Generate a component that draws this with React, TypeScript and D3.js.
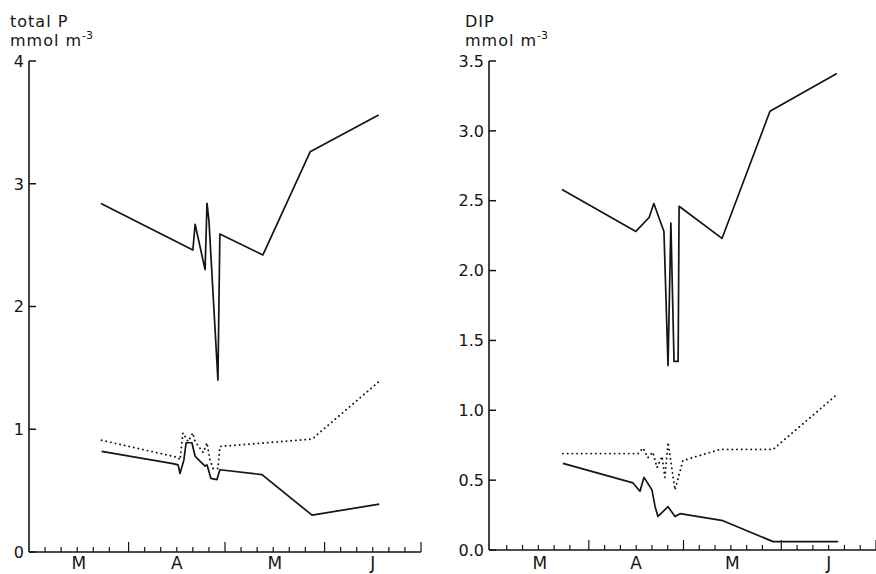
import React from "react";
import * as d3 from "d3";

// day counted from 1 March; months M A M J
const monthStarts = [0, 31, 61, 92, 122];
const monthLabels = ["M", "A", "M", "J"];

type Pt = [number, number];

// total P, mmol m-3
const totalPUpper: Pt[] = [
  [22.4, 2.84], [51.0, 2.46], [51.7, 2.67], [54.8, 2.3], [55.4, 2.84], [56.0, 2.7],
  [58.8, 1.4], [59.4, 2.59], [72.8, 2.42], [87.5, 3.26], [108.8, 3.56],
];
const totalPDotted: Pt[] = [
  [22.6, 0.91], [46.4, 0.77], [47.0, 0.75], [47.9, 0.97], [49.5, 0.9], [51.0, 0.97],
  [51.7, 0.9], [54.2, 0.81], [55.4, 0.89], [56.3, 0.75], [57.3, 0.68], [58.8, 0.68],
  [59.4, 0.86], [88.1, 0.92], [109.0, 1.39],
];
const totalPLower: Pt[] = [
  [22.6, 0.82], [44.8, 0.72], [46.4, 0.71], [47.0, 0.64], [48.2, 0.75], [48.9, 0.89],
  [50.7, 0.89], [51.7, 0.78], [53.2, 0.74], [54.8, 0.7], [55.4, 0.71], [56.6, 0.6],
  [58.5, 0.59], [59.4, 0.67], [72.5, 0.63], [88.1, 0.3], [109.0, 0.39],
];

// DIP, mmol m-3
const dipUpper: Pt[] = [
  [22.5, 2.58], [45.9, 2.28], [50.1, 2.38], [51.6, 2.48], [54.8, 2.28], [56.1, 1.32],
  [57.0, 2.34], [58.0, 1.35], [59.3, 1.35], [59.6, 2.46], [73.2, 2.23], [88.4, 3.14],
  [109.6, 3.41],
];
const dipDotted: Pt[] = [
  [22.8, 0.69], [46.6, 0.69], [48.2, 0.73], [49.7, 0.66], [51.3, 0.7], [52.6, 0.59],
  [54.2, 0.67], [55.1, 0.52], [56.1, 0.77], [58.3, 0.43], [60.8, 0.64], [72.6, 0.72],
  [89.4, 0.72], [110.0, 1.12],
];
const dipLower: Pt[] = [
  [22.8, 0.62], [45.0, 0.48], [47.2, 0.42], [48.5, 0.52], [51.0, 0.43], [52.0, 0.31],
  [52.9, 0.24], [56.1, 0.31], [58.3, 0.24], [59.9, 0.26], [73.5, 0.21], [89.4, 0.06],
  [110.0, 0.06],
];

const totalPTicks = [0, 1, 2, 3, 4];
const dipTicks = [0, 0.5, 1, 1.5, 2, 2.5, 3, 3.5];

const font = "'DejaVu Sans', sans-serif";
const ink = "#141414";

type PanelProps = {
  axisX: number;
  xRange: [number, number];
  xEnd: number;
  yRange: [number, number];
  yMax: number;
  ticks: number[];
  fmt: (v: number) => string;
  title: string;
  titleX: number;
  solid: Pt[][];
  dotted: Pt[];
};

function Panel(p: PanelProps) {
  const x = d3.scaleLinear().domain([0, 122]).range(p.xRange);
  const y = d3.scaleLinear().domain([0, p.yMax]).range(p.yRange);
  const line = d3.line<Pt>().x(d => x(d[0])).y(d => y(d[1]));
  const y0 = y(0);

  const minor: number[] = [];
  monthStarts.slice(0, 4).forEach(m => [5, 10, 15, 20, 25].forEach(k => minor.push(m + k)));

  return (
    <g>
      <text x={p.titleX} y={27} fontSize={16} letterSpacing={1} fontFamily={font} fill={ink}>{p.title}</text>
      <text x={p.titleX} y={46} fontSize={16} letterSpacing={1} fontFamily={font} fill={ink}>
        mmol m<tspan fontSize={11} dy={-7} letterSpacing={0}>-3</tspan>
      </text>

      {/* y axis */}
      <line x1={p.axisX} x2={p.axisX} y1={y(p.yMax)} y2={y0} stroke={ink} strokeWidth={1.6} />
      {p.ticks.map(t => (
        <g key={t}>
          <line x1={p.axisX} x2={p.axisX + 7} y1={y(t)} y2={y(t)} stroke={ink} strokeWidth={1.5} />
          <text x={p.axisX - 5} y={y(t)} dy="0.36em" textAnchor="end" fontSize={16}
            fontFamily={font} fill={ink}>{p.fmt(t)}</text>
        </g>
      ))}

      {/* x axis */}
      <line x1={p.axisX} x2={p.xEnd} y1={y0} y2={y0} stroke={ink} strokeWidth={1.5} />
      {minor.map(d => (
        <line key={"m" + d} x1={x(d)} x2={x(d)} y1={y0} y2={y0 - 5} stroke={ink} strokeWidth={1.2} />
      ))}
      {monthStarts.slice(1).map(d => (
        <line key={"M" + d} x1={x(d)} x2={x(d)} y1={y0} y2={y0 - 10} stroke={ink} strokeWidth={1.2} />
      ))}
      {monthLabels.map((lab, i) => (
        <text key={i} x={x((monthStarts[i] + monthStarts[i + 1]) / 2)} y={569} textAnchor="middle"
          fontSize={17} fontFamily={font} fill={ink}>{lab}</text>
      ))}

      {p.solid.map((s, i) => (
        <path key={i} d={line(s) || ""} fill="none" stroke={ink} strokeWidth={1.7} strokeLinejoin="round" />
      ))}
      <path d={line(p.dotted) || ""} fill="none" stroke={ink} strokeWidth={1.9}
        strokeDasharray="0.1 4.6" strokeLinecap="round" />
    </g>
  );
}

export default function App() {
  return (
    <svg width={876} height={574} style={{ position: "absolute", left: 0, top: 0, background: "#fff" }}>
      <rect width={876} height={574} fill="#fff" />
      <Panel axisX={29} xRange={[29, 421]} xEnd={421} yRange={[552, 61]} yMax={4}
        ticks={totalPTicks} fmt={d3.format("d")} title="total P" titleX={10}
        solid={[totalPUpper, totalPLower]} dotted={totalPDotted} />
      <Panel axisX={489} xRange={[491, 876]} xEnd={876} yRange={[550, 61]} yMax={3.5}
        ticks={dipTicks} fmt={d3.format(".1f")} title="DIP" titleX={465}
        solid={[dipUpper, dipLower]} dotted={dipDotted} />
    </svg>
  );
}
